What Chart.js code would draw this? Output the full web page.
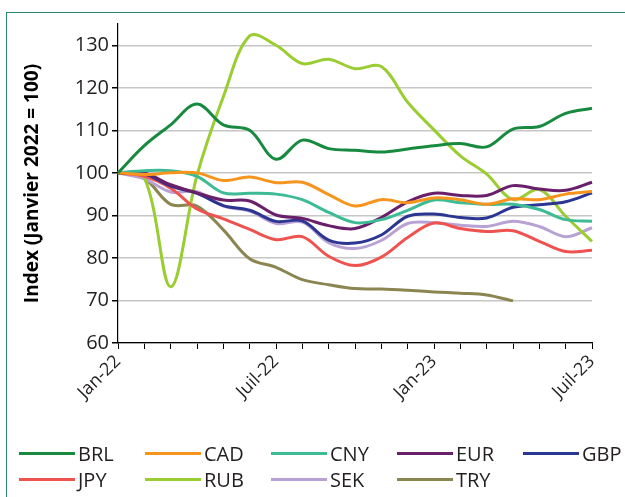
<!DOCTYPE html>
<html lang="fr">
<head>
<meta charset="utf-8">
<script src="https://cdn.jsdelivr.net/npm/chart.js@4.4.1/dist/chart.umd.min.js"></script>
<style>
  html, body { margin: 0; padding: 0; background: #fff; overflow: hidden; }
  #wrap { position: relative; width: 625px; height: 497px;
          font-family: "Liberation Sans Narrow", "Open Sans", sans-serif; }
  #cadre { position: absolute; left: 6px; top: 12px; width: 700px; height: 600px;
           border-left: 1.5px solid #2b8a6e; border-top: 1.5px solid #2b8a6e; }
  #graph { position: absolute; left: 0; top: 0; }
  #legende { position: absolute; left: 19px; top: 441px; }
  .item { position: absolute; display: flex; align-items: center; height: 24px;
          font-size: 20px; color: #231f20; white-space: nowrap; }
  .trait { width: 56px; height: 3px; margin-right: 3px; }
</style>
</head>
<body>
<div id="wrap">
  <div id="cadre"></div>
  <canvas id="graph" width="625" height="497"></canvas>
  <div id="legende"></div>
</div>
<script>
// mois : janvier 2022 à juillet 2023
const mois = ["Jan-22", "Févr-22", "Mars-22", "Avr-22", "Mai-22", "Juin-22", "Juil-22", "Août-22", "Sept-22",
  "Oct-22", "Nov-22", "Déc-22", "Jan-23", "Févr-23", "Mars-23", "Avr-23", "Mai-23", "Juin-23", "Juil-23"];
const ticksY = [60, 70, 80, 90, 100, 110, 120, 130];

const devises = ["BRL", "CAD", "CNY", "EUR", "GBP", "JPY", "RUB", "SEK", "TRY"];
const couleurs = ["#178a3f", "#f7941d", "#3dbb94", "#6a1f6a", "#2b3592", "#ef5350", "#9acd32", "#b8a2d4", "#8b8552"];

const brl = [100, 106.4, 111.3, 116.2, 111.3, 110.0, 103.2, 107.7, 105.7, 105.3, 104.9, 105.6, 106.4, 106.9, 106.1, 110.3, 110.9, 114.0, 115.2];
const cad = [100, 99.6, 100, 100, 98.2, 99.0, 97.7, 97.8, 94.9, 92.2, 93.7, 93.0, 94.1, 93.7, 92.6, 93.9, 93.7, 95.0, 95.6];
const cny = [100, 100.5, 100.5, 99.2, 95.3, 95.2, 95.0, 93.7, 90.7, 88.3, 89.0, 91.2, 93.6, 93.0, 92.6, 92.6, 91.4, 89.0, 88.6];
const eur = [100, 100, 97.2, 95.3, 93.6, 93.4, 90.1, 89.3, 87.6, 86.9, 89.5, 93.2, 95.2, 94.7, 94.7, 97.0, 96.2, 95.9, 97.8];
const gbp = [100, 99.8, 96.9, 95.2, 92.3, 91.2, 88.6, 88.7, 84.2, 83.5, 85.4, 89.8, 90.3, 89.5, 89.4, 91.9, 92.5, 93.2, 95.3];
const jpy = [100, 99.2, 96.4, 91.5, 89.2, 86.7, 84.3, 85.0, 80.4, 78.2, 80.2, 84.8, 88.2, 86.9, 86.2, 86.4, 83.9, 81.5, 81.8];
const rub = [100, 98.8, 73.2, 99.4, 117.9, 132.2, 130.0, 125.7, 126.7, 124.5, 125.0, 116.6, 110.1, 104.0, 99.7, 93.7, 96.1, 89.8, 83.9];
const sek = [100, 98.6, 95.5, 95.6, 92.2, 91.0, 88.1, 88.4, 83.6, 82.2, 84.1, 88.1, 88.3, 87.7, 87.4, 88.6, 87.4, 85.0, 87.1];
const tryl = [100, 98.7, 92.6, 92.2, 86.6, 79.8, 77.8, 74.9, 73.7, 72.8, 72.7, 72.4, 72.0, 71.7, 71.3, 69.9, null, null, null];

const series = [brl, cad, cny, eur, gbp, jpy, rub, sek, tryl];

const police = "'Liberation Sans Narrow', 'Open Sans', sans-serif";

new Chart(document.getElementById("graph"), {
  type: "line",
  data: {
    labels: mois,
    datasets: devises.map((d, i) => ({
      label: d,
      data: series[i],
      borderColor: couleurs[i],
      backgroundColor: couleurs[i],
      borderWidth: 3,
      pointRadius: 0,
      tension: 0.35,
      fill: false
    }))
  },
  options: {
    responsive: false,
    devicePixelRatio: 1,
    animation: false,
    layout: { padding: { top: 24, right: 33, bottom: 0, left: 21 } },
    plugins: { legend: { display: false }, tooltip: { enabled: false } },
    scales: {
      x: {
        afterFit: s => { s.height = 154; },
        border: { color: "#000", width: 1.2 },
        grid: { drawOnChartArea: false, drawTicks: true, tickColor: "#000", tickLength: 6 },
        ticks: {
          autoSkip: false, minRotation: 45, maxRotation: 45, padding: 2,
          color: "#231f20", font: { family: police, size: 18 },
          callback: (v, i) => (i % 6 === 0 ? mois[i] : "")
        }
      },
      y: {
        min: 60, max: 135,
        afterFit: s => { s.width = 97; },
        afterBuildTicks: s => { s.ticks = ticksY.map(v => ({ value: v })); },
        border: { color: "#000", width: 1.2 },
        grid: { color: "#c6c6c6", lineWidth: 1.5, tickColor: "#000", tickLength: 6 },
        ticks: { padding: 3, color: "#231f20", font: { family: police, size: 20 } },
        title: {
          display: true, text: "Index (Janvier 2022 = 100)",
          color: "#000", font: { family: "'Open Sans', sans-serif", size: 19, weight: "bold" },
          padding: { top: 0, bottom: 4 }
        }
      }
    }
  }
});

// légende HTML : 5 colonnes
const leg = document.getElementById("legende");
devises.forEach((d, i) => {
  const el = document.createElement("div");
  el.className = "item";
  el.style.left = (i % 5) * 126 + "px";
  el.style.top = Math.floor(i / 5) * 26 + "px";
  el.innerHTML = `<span class="trait" style="background:${couleurs[i]}"></span>${d}`;
  leg.appendChild(el);
});
</script>
</body>
</html>
